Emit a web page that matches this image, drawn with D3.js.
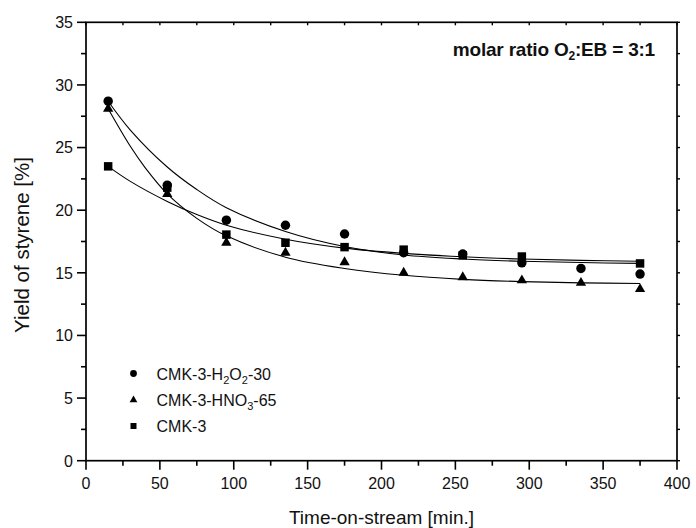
<!DOCTYPE html>
<html><head><meta charset="utf-8">
<script src="https://cdn.jsdelivr.net/npm/d3@7"></script>
<style>
html,body{margin:0;padding:0;background:#fff;}
svg{display:block;font-family:"Liberation Sans",Arial,sans-serif;}
</style></head>
<body><svg id="c" width="696" height="528"></svg>
<script>
// ---- data ----
const timeX = [15, 55, 95, 135, 175, 215, 255, 295, 335, 375];
const h2o2Y = [28.7, 22.0, 19.2, 18.8, 18.1, 16.6, 16.5, 15.8, 15.35, 14.9];
const hno3Y = [28.1, 21.3, 17.4, 16.6, 15.85, 15.0, 14.65, 14.4, 14.2, 13.7];
const cmkX  = [15, 55, 95, 135, 175, 215, 255, 295, 375];
const cmkY  = [23.5, 21.8, 18.05, 17.4, 17.05, 16.85, 16.4, 16.3, 15.75];

// fitted decay curves
const fitH2o2X = [15, 30, 55, 75, 95, 135, 175, 215, 255, 295, 335, 375];
const fitH2o2Y = [28.7, 26.4, 23.45, 21.65, 20.2, 18.3, 17.1, 16.42, 16.1, 15.92, 15.82, 15.75];
const fitHno3X = [15, 30, 40, 55, 75, 95, 135, 175, 215, 255, 295, 335, 375];
const fitHno3Y = [28.1, 25.1, 23.4, 21.3, 19.35, 17.95, 16.25, 15.35, 14.8, 14.48, 14.3, 14.2, 14.15];
const fitCmkX  = [15, 30, 55, 75, 95, 135, 175, 215, 255, 295, 335, 375];
const fitCmkY  = [23.5, 22.3, 20.7, 19.65, 18.8, 17.68, 16.97, 16.55, 16.28, 16.1, 15.99, 15.92];

const xMajor = [0, 50, 100, 150, 200, 250, 300, 350, 400];
const yMajor = [0, 5, 10, 15, 20, 25, 30, 35];
const legendLabels = ["CMK-3-H<sub>2</sub>O<sub>2</sub>-30", "CMK-3-HNO<sub>3</sub>-65", "CMK-3"];

// ---- layout ----
const svg = d3.select("#c");
const L = 86, R = 677, T = 22.3, B = 460.7;
const x = d3.scaleLinear().domain([0, 400]).range([L, R]);
const y = d3.scaleLinear().domain([0, 35]).range([B, T]);
const xMinor = d3.range(25, 400, 50);
const yMinor = d3.range(2.5, 35, 5);

const g = svg.append("g");

// curves
const line = d3.line().x(d => x(d[0])).y(d => y(d[1])).curve(d3.curveCatmullRom.alpha(0.5));
[[fitH2o2X, fitH2o2Y], [fitHno3X, fitHno3Y], [fitCmkX, fitCmkY]].forEach(([xs, ys]) => {
  g.append("path").attr("d", line(xs.map((v, i) => [v, ys[i]])))
    .attr("fill", "none").attr("stroke", "#000").attr("stroke-width", 1.1);
});

// markers
const symCircle = d3.symbol().type(d3.symbolCircle).size(70);
const symTri = d3.symbol().type(d3.symbolTriangle).size(46);
const symSq = d3.symbol().type(d3.symbolSquare).size(72);
function drawPts(xs, ys, sym) {
  g.selectAll(null).data(xs.map((v, i) => [v, ys[i]])).enter().append("path")
    .attr("d", sym).attr("transform", d => `translate(${x(d[0])},${y(d[1])})`).attr("fill", "#000");
}
drawPts(cmkX, cmkY, symSq);
drawPts(timeX, hno3Y, symTri);
drawPts(timeX, h2o2Y, symCircle);

// axes
const ax = svg.append("g").attr("stroke", "#000");
ax.append("rect").attr("x", L).attr("y", T).attr("width", R - L).attr("height", B - T)
  .attr("fill", "none").attr("stroke-width", 1.7);
yMajor.forEach(v => ax.append("line").attr("x1", L - 9).attr("x2", L).attr("y1", y(v)).attr("y2", y(v)).attr("stroke-width", 1.6));
yMinor.forEach(v => ax.append("line").attr("x1", L - 5).attr("x2", L).attr("y1", y(v)).attr("y2", y(v)).attr("stroke-width", 1.6));
yMajor.concat(yMinor).forEach(v => ax.append("line").attr("x1", R).attr("x2", R + 3).attr("y1", y(v)).attr("y2", y(v)).attr("stroke-width", 1.4));
xMajor.forEach(v => ax.append("line").attr("x1", x(v)).attr("x2", x(v)).attr("y1", B).attr("y2", B + 9).attr("stroke-width", 1.6));
xMinor.forEach(v => ax.append("line").attr("x1", x(v)).attr("x2", x(v)).attr("y1", B).attr("y2", B + 5).attr("stroke-width", 1.6));
xMajor.concat(xMinor).forEach(v => ax.append("line").attr("x1", x(v)).attr("x2", x(v)).attr("y1", T).attr("y2", T + 3).attr("stroke-width", 1.4));

// tick labels
const lab = svg.append("g").attr("font-size", 16).attr("fill", "#111");
yMajor.forEach(v => lab.append("text").attr("x", 73).attr("y", y(v) + 5.8).attr("text-anchor", "end").text(v));
xMajor.forEach(v => lab.append("text").attr("x", x(v)).attr("y", 488.5).attr("text-anchor", "middle").text(v));

// axis titles
svg.append("text").attr("x", (L + R) / 2).attr("y", 524).attr("text-anchor", "middle")
  .attr("font-size", 19).attr("fill", "#111").text("Time-on-stream [min.]");
svg.append("text").attr("transform", `translate(29,${245}) rotate(-90)`).attr("text-anchor", "middle")
  .attr("font-size", 20.5).attr("fill", "#111").text("Yield of styrene [%]");

// annotation
const ann = svg.append("text").attr("x", 655).attr("y", 56).attr("text-anchor", "end")
  .attr("font-size", 19).attr("font-weight", "bold").attr("fill", "#111").attr("letter-spacing", -0.2);
ann.append("tspan").text("molar ratio O");
ann.append("tspan").attr("font-size", 12).attr("dy", 4).text("2");
ann.append("tspan").attr("dy", -4).text(":EB = 3:1");

// legend
const legY = [373.5, 400, 426];
const legSyms = [d3.symbol().type(d3.symbolCircle).size(36), d3.symbol().type(d3.symbolTriangle).size(26), d3.symbol().type(d3.symbolSquare).size(36)];
legY.forEach((yy, i) => {
  svg.append("path").attr("d", legSyms[i]).attr("transform", `translate(133.5,${yy})`).attr("fill", "#000");
  const t = svg.append("text").attr("x", 156.5).attr("y", yy + 6).attr("font-size", 16).attr("fill", "#111");
  const parts = legendLabels[i].split(/(<sub>.*?<\/sub>)/).filter(s => s.length);
  let shifted = false;
  parts.forEach(p => {
    const m = p.match(/<sub>(.*?)<\/sub>/);
    if (m) { t.append("tspan").attr("font-size", 11).attr("dy", 4).text(m[1]); shifted = true; }
    else { const ts = t.append("tspan").text(p); if (shifted) { ts.attr("dy", -4); shifted = false; } }
  });
});
</script></body></html>
